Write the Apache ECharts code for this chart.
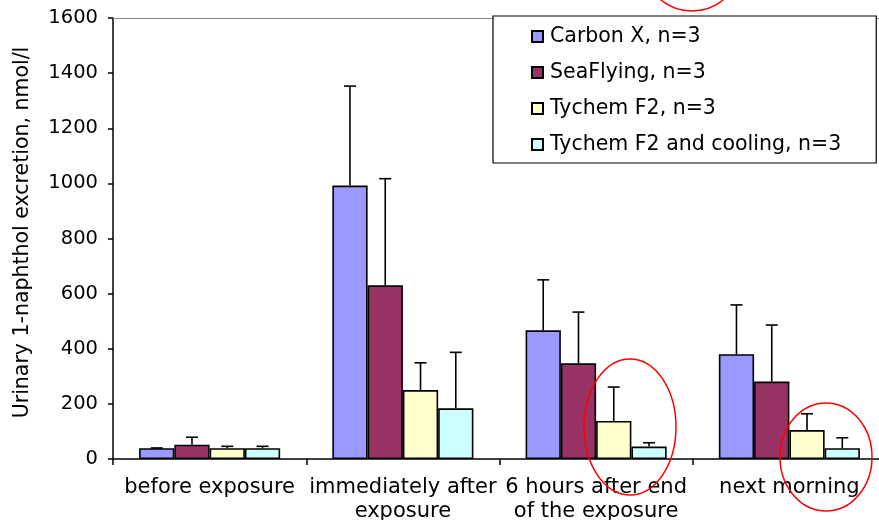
<!DOCTYPE html>
<html>
<head>
<meta charset="utf-8">
<script src="https://cdn.jsdelivr.net/npm/echarts@6/dist/echarts.min.js"></script>
<style>html,body{margin:0;padding:0;background:#fff}#c{width:879px;height:520px}</style>
</head>
<body>
<div id="c"></div>
<script>
const categories = ['before exposure', 'immediately after\nexposure', '6 hours after end\nof the exposure', 'next morning'];
const seriesNames = ['Carbon X, n=3', 'SeaFlying, n=3', 'Tychem F2, n=3', 'Tychem F2 and cooling, n=3'];
const carbonX = [39, 992, 467, 380];
const carbonXErr = [1, 361, 183, 179];
const seaFlying = [52, 630, 347, 281];
const seaFlyingErr = [27, 387, 186, 205];
const tychemF2 = [39, 250, 138, 105];
const tychemF2Err = [7, 99, 123, 59];
const tychemCooling = [39, 184, 45, 39];
const tychemCoolingErr = [7, 203, 14, 38];
const yTicks = [0, 200, 400, 600, 800, 1000, 1200, 1400, 1600];

const colors = ['#9999FF', '#993366', '#FFFFCC', '#CCFFFF'];
const values = [carbonX, seaFlying, tychemF2, tychemCooling];
const errs = [carbonXErr, seaFlyingErr, tychemF2Err, tychemCoolingErr];
const gapFrac = 0.27;
const font = 'DejaVu Sans, Verdana, sans-serif';

const chart = echarts.init(document.getElementById('c'), null, {renderer: 'canvas'});

const barSeries = values.map((v, i) => ({
  name: seriesNames[i], type: 'bar', data: v,
  barGap: '0%', barCategoryGap: (gapFrac * 100) + '%',
  itemStyle: {color: colors[i], borderColor: '#000', borderWidth: 1.6},
  emphasis: {disabled: true}, z: 2
}));

const errSeries = values.map((v, i) => ({
  type: 'custom', name: 'err' + i, z: 3, silent: true,
  data: v.map((val, k) => [k, val, errs[i][k]]),
  encode: {x: 0, y: 1},
  renderItem: function (params, api) {
    const k = api.value(0), val = api.value(1), e = api.value(2);
    const base = api.coord([k, val]);
    const top = api.coord([k, val + e]);
    const bw = api.size([1, 0])[0] * (1 - gapFrac) / 4;
    const x = base[0] + (i - 1.5) * bw;
    const cap = 6;
    return {
      type: 'group',
      children: [
        {type: 'line', shape: {x1: x, y1: base[1], x2: x, y2: top[1]}, style: {stroke: '#000', lineWidth: 1.6}},
        {type: 'line', shape: {x1: x - cap, y1: top[1], x2: x + cap, y2: top[1]}, style: {stroke: '#000', lineWidth: 1.6}}
      ]
    };
  }
}));

const option = {
  animation: false,
  backgroundColor: '#fff',
  textStyle: {fontFamily: font, color: '#000'},
  grid: {left: 113, top: 18, bottom: 61, right: -7, containLabel: false, outerBoundsMode: 'none'},
  legend: {
    data: seriesNames,
    orient: 'vertical',
    left: 493, top: 16,
    padding: [10, 35, 8, 38],
    itemWidth: 11, itemHeight: 11, itemGap: 15,
    backgroundColor: '#fff', borderColor: '#000', borderWidth: 1.2,
    icon: 'rect',
    textStyle: {fontFamily: font, fontSize: 20.5, color: '#000', lineHeight: 20, padding: [0, 0, 0, 2]},
    selectedMode: false, z: 10
  },
  xAxis: [{
    type: 'category', data: categories,
    axisLine: {lineStyle: {color: '#000', width: 1.5}},
    axisTick: {show: true, length: 6, lineStyle: {color: '#000', width: 1.5}},
    axisLabel: {interval: 0, fontFamily: font, fontSize: 21, color: '#000', margin: 17, lineHeight: 24}
  }, {
    type: 'category', data: categories, position: 'top',
    axisLine: {lineStyle: {color: '#888', width: 1.2}},
    axisTick: {show: false}, axisLabel: {show: false}
  }],
  yAxis: {
    type: 'value', min: yTicks[0], max: yTicks[yTicks.length - 1], interval: 200,
    name: 'Urinary 1-naphthol excretion, nmol/l',
    nameLocation: 'middle', nameGap: 80, nameRotate: 90,
    nameTextStyle: {fontFamily: font, fontSize: 20.5, color: '#000', padding: [0, 0, 0, 12]},
    axisLine: {show: true, lineStyle: {color: '#000', width: 1.5}},
    axisTick: {show: true, length: 5, lineStyle: {color: '#000', width: 1.5}},
    axisLabel: {fontFamily: font, fontSize: 19.5, color: '#000', margin: 15, formatter: v => String(v)},
    splitLine: {show: false}
  },
  series: barSeries.concat(errSeries),
  graphic: [
    {type: 'ellipse', shape: {cx: 692, cy: -45, rx: 52, ry: 56}, style: {fill: 'none', stroke: '#ff0000', lineWidth: 1.5}, z: 100},
    {type: 'ellipse', shape: {cx: 630, cy: 427, rx: 46, ry: 68}, style: {fill: 'none', stroke: '#ff0000', lineWidth: 1.5}, z: 100},
    {type: 'ellipse', shape: {cx: 826, cy: 457, rx: 46, ry: 54}, style: {fill: 'none', stroke: '#ff0000', lineWidth: 1.5}, z: 100}
  ]
};
chart.setOption(option);
</script>
</body>
</html>
